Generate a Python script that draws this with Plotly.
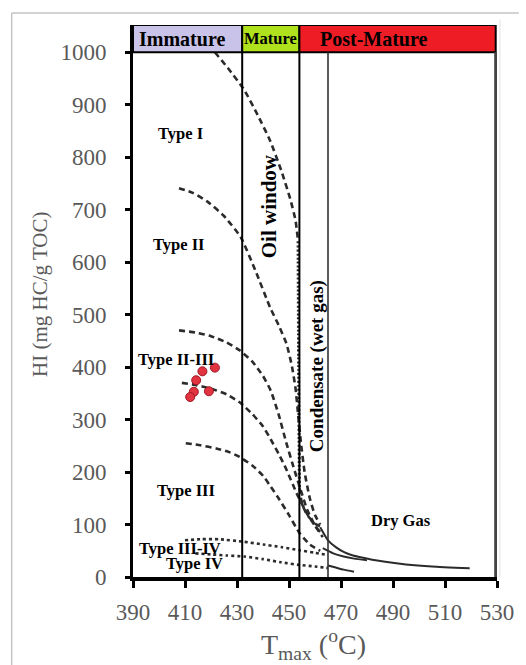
import plotly.graph_objects as go

# ---------------- data ----------------
x_ticks = [390, 410, 430, 450, 470, 490, 510, 530]
y_ticks = [0, 100, 200, 300, 400, 500, 600, 700, 800, 900, 1000]

zone_names = ["Immature", "Mature", "Post-Mature"]
zone_bounds = [390, 432, 454, 529.5]
zone_colors = ["#c9c3ea", "#afe21d", "#ee1c24"]
extra_line_x = 465

type1_x = [421.5, 426.5, 432.8, 438, 442.7, 447, 450.5, 452.5, 453.5]
type1_y = [1000, 970, 928, 880, 832, 775, 720, 680, 640]
type1v_x = [453.5, 453.7, 454.0]
type1v_y = [640, 400, 170]
type1t_x = [454.0, 455, 457, 460, 462.5]
type1t_y = [170, 140, 118, 102, 95]

type2_x = [407.7, 413, 419, 425, 431.4, 437, 442.7, 446, 449, 451, 452.5, 453.5, 454.5, 456, 458, 460, 462]
type2_y = [741, 732, 714, 688, 648, 585, 514, 480, 445, 405, 360, 310, 260, 200, 150, 118, 100]

type23a_x = [407.7, 414, 420, 426, 431, 436, 440, 443, 446, 449, 452, 454.5, 457, 460, 463]
type23a_y = [470, 466, 459, 447, 432, 410, 383, 355, 310, 255, 205, 166, 128, 98, 76]

type23b_x = [408.8, 414, 420, 426, 431, 436, 440, 443, 446, 449, 452.9, 457, 460.4, 463]
type23b_y = [370, 366, 359, 348, 333, 310, 287, 262, 235, 205, 160, 120, 95, 80]

type3_x = [410.3, 416, 422, 427, 431, 436, 440, 443, 446, 450, 454, 458, 462]
type3_y = [255, 251, 245, 238, 229, 212, 193, 172, 150, 118, 84, 62, 50]

type34_x = [410, 416, 423, 432.8, 440, 447, 454, 460, 465]
type34_y = [70, 72, 72, 67, 62, 57, 51, 46, 42]

type4_x = [414, 420, 426, 432.8, 440, 447, 454, 460, 465]
type4_y = [45, 43, 41, 39, 34, 28, 23, 20, 17]

tailA_x = [462, 465, 468, 471, 474, 478, 482, 487, 495, 505, 519.5]
tailA_y = [95, 70, 57, 48, 42, 37, 33, 29, 24, 20, 16.5]
tailB_x = [463, 467, 471, 475, 480]
tailB_y = [55, 45, 39, 35, 32]
tailC_x = [465, 468, 471, 475]
tailC_y = [22, 18, 14, 10]

sample_x = [421.5, 416.7, 414.3, 413.4, 412.0, 419.2]
sample_hi = [399, 392, 375, 353, 343, 354]

labels = ["Type I", "Type II", "Type II-III", "Type III", "Type III-IV", "Type IV", "Dry Gas"]
label_x = [408.3, 407.7, 406.6, 410.3, 408.0, 413.6, 492.9]
label_y = [846, 633, 414, 164, 55, 26, 107]

# ---------------- figure ----------------
fig = go.Figure()

line_col = "#2b2b2b"
dashed = "6px,4px"
dotted = "3px,3px"


def add_line(xs, ys, dash, width=2.6, smooth=0.5):
    fig.add_trace(go.Scatter(x=xs, y=ys, mode="lines",
                             line=dict(color=line_col, width=width, dash=dash, shape="spline", smoothing=smooth),
                             hoverinfo="skip"))


add_line(type1_x, type1_y, dashed)
add_line(type1v_x, type1v_y, "2px,2px", width=3, smooth=0)
add_line(type1t_x, type1t_y, dashed)
for xs, ys in [(type2_x, type2_y), (type23a_x, type23a_y), (type23b_x, type23b_y), (type3_x, type3_y)]:
    add_line(xs, ys, dashed)
for xs, ys in [(type34_x, type34_y), (type4_x, type4_y)]:
    add_line(xs, ys, dotted)
for xs, ys in [(tailA_x, tailA_y), (tailB_x, tailB_y), (tailC_x, tailC_y)]:
    add_line(xs, ys, "solid", width=2)

fig.add_trace(go.Scatter(x=sample_x, y=sample_hi, mode="markers",
                         marker=dict(color="#e23340", size=9, line=dict(color="#a01825", width=1)), hoverinfo="skip"))

shapes = []
banner_top = 1052
for i, name in enumerate(zone_names):
    shapes.append(dict(type="rect", xref="x", yref="y", x0=zone_bounds[i], x1=zone_bounds[i + 1], y0=1000, y1=banner_top,
                       fillcolor=zone_colors[i], line=dict(color="black", width=2), layer="above"))
for bx in zone_bounds[1:3]:
    shapes.append(dict(type="line", xref="x", yref="y", x0=bx, x1=bx, y0=0, y1=1000, line=dict(color="black", width=2)))
shapes.append(dict(type="line", xref="x", yref="y", x0=extra_line_x, x1=extra_line_x, y0=0, y1=1000, line=dict(color="#333", width=1.6)))
shapes.append(dict(type="line", xref="x", yref="y", x0=zone_bounds[3], x1=zone_bounds[3], y0=0, y1=1000, line=dict(color="#444", width=3)))
# outer frame (image border)
shapes.append(dict(type="line", xref="paper", yref="paper", x0=-0.3333, x1=1.06, y0=1.0217, y1=1.0217, line=dict(color="#c4c4c4", width=1.5)))
shapes.append(dict(type="line", xref="paper", yref="paper", x0=-0.3333, x1=-0.3333, y0=1.0217, y1=-0.17, line=dict(color="#c4c4c4", width=1.5)))
shapes.append(dict(type="line", xref="paper", yref="paper", x0=1.008, x1=1.008, y0=1.01, y1=0.0, line=dict(color="#e2e2e2", width=1)))

annotations = []
zone_font_sizes = [20, 16.5, 20]
zone_text_x = [409, 443, 482.6]
for i, name in enumerate(zone_names):
    annotations.append(dict(x=zone_text_x[i], y=(1000 + banner_top) / 2, xref="x", yref="y", text="<b>%s</b>" % name,
                            showarrow=False, font=dict(family="Liberation Serif", size=zone_font_sizes[i], color="black")))
for t, lx, ly in zip(labels, label_x, label_y):
    annotations.append(dict(x=lx, y=ly, xref="x", yref="y", text="<b>%s</b>" % t, showarrow=False,
                            font=dict(family="Liberation Serif", size=16.5, color="black")))
annotations.append(dict(x=442.2, y=706, xref="x", yref="y", text="<b>Oil window</b>", textangle=-90, showarrow=False,
                        font=dict(family="Liberation Serif", size=21, color="black")))
annotations.append(dict(x=460.8, y=402, xref="x", yref="y", text="<b>Condensate (wet gas)</b>", textangle=-90, showarrow=False,
                        font=dict(family="Liberation Serif", size=19, color="black")))
annotations.append(dict(x=-0.2554, y=0.511, xref="paper", yref="paper", xanchor="center", yanchor="middle",
                        text="HI (mg HC/g TOC)", textangle=-90, showarrow=False,
                        font=dict(family="Liberation Serif", size=21, color="#595959")))
annotations.append(dict(x=0.497, y=-0.123, xref="paper", yref="paper", xanchor="center", yanchor="middle",
                        text="T<sub>max</sub> (<sup>o</sup>C)", showarrow=False,
                        font=dict(family="Liberation Serif", size=28, color="#595959")))

fig.update_layout(
    width=526, height=665,
    margin=dict(l=133, r=21, t=25, b=88),
    paper_bgcolor="white", plot_bgcolor="white",
    showlegend=False,
    shapes=shapes, annotations=annotations,
    xaxis=dict(range=[390, 530], tickvals=x_ticks, ticktext=[str(v) for v in x_ticks], showgrid=False, zeroline=False,
               showline=True, linecolor="black", linewidth=4, ticks="outside", ticklen=7, tickwidth=3, tickcolor="black",
               tickfont=dict(family="Liberation Serif", size=23, color="#595959"), ticklabelstandoff=4),
    yaxis=dict(range=[0, banner_top], tickvals=y_ticks, ticktext=[str(v) for v in y_ticks], showgrid=False, zeroline=False,
               showline=True, linecolor="black", linewidth=3, ticks="outside", ticklen=5, tickwidth=3, tickcolor="black",
               tickfont=dict(family="Liberation Serif", size=23, color="#595959"), ticklabelstandoff=14),
)

fig.write_html("out.html")
